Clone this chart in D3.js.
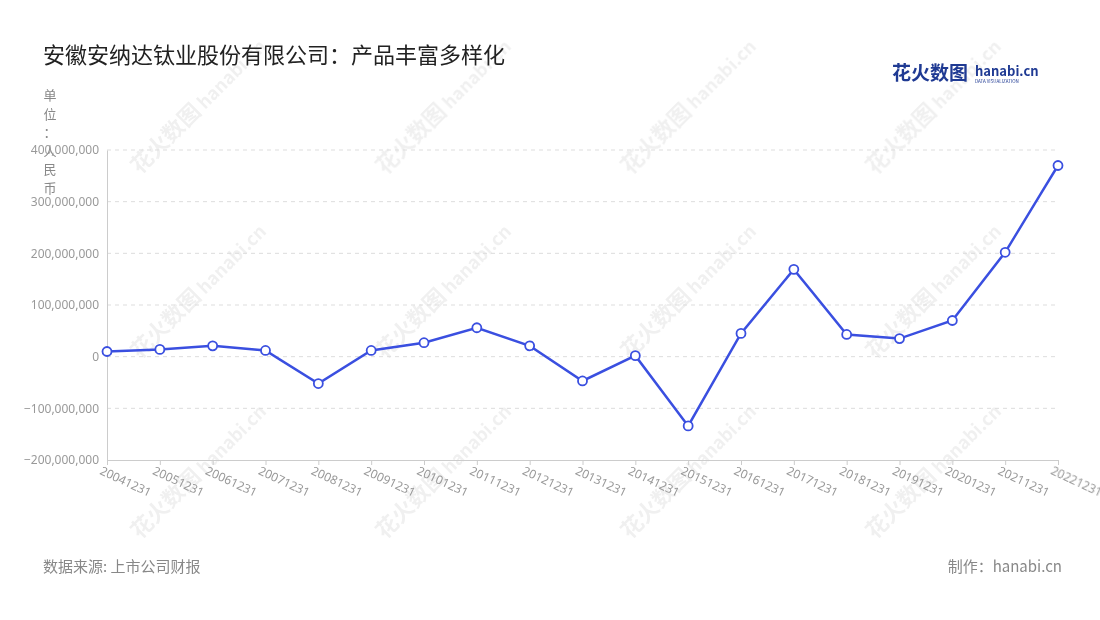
<!DOCTYPE html>
<html><head><meta charset="utf-8">
<script src="https://cdn.jsdelivr.net/npm/d3@7"></script>
<style>body{margin:0;background:#fff;font-family:"Noto Sans CJK SC","Noto Sans",sans-serif;}</style>
</head><body><div id="chart"></div>
<script>
// data
const years = ["20041231","20051231","20061231","20071231","20081231","20091231","20101231","20111231","20121231","20131231","20141231","20151231","20161231","20171231","20181231","20191231","20201231","20211231","20221231"];
const values = [10e6,14e6,21e6,12e6,-52e6,12e6,27e6,56e6,21e6,-47e6,2e6,-134e6,45e6,169e6,43e6,35e6,70e6,202e6,370e6];
const yTicks = [-200e6,-100e6,0,100e6,200e6,300e6,400e6];

const margin = {top: 150, right: 42, bottom: 160, left: 107},
width = 1100 - margin.left - margin.right,
height = 620 - margin.top - margin.bottom;

const root = d3.select("#chart").append("svg").attr("width",1100).attr("height",620);

// watermarks
const wm = root.append("g").attr("fill","#000").attr("opacity",0.06).style("font-weight","bold");
[[140,360],[385,175],[385,540],[630,175],[630,540],[875,175],[875,540],[385,360],[630,360],[875,360],[140,540],[140,175]].forEach(p=>{
  const g = wm.append("g").attr("transform",`translate(${p[0]},${p[1]}) rotate(-45)`);
  g.append("text").attr("font-size",22).text("花火数图");
  g.append("text").attr("x",92).attr("font-size",18).text("hanabi.cn");
});

root.append("text").attr("x",43).attr("y",63).attr("font-size",22).attr("fill","#222").text("安徽安纳达钛业股份有限公司：产品丰富多样化");
root.append("text").attr("x",892).attr("y",80).attr("font-size",19).attr("font-weight","bold").attr("fill","#1f3a93").text("花火数图");
root.append("text").attr("x",975).attr("y",76).attr("font-size",13).attr("font-weight","bold").attr("fill","#1f3a93").text("hanabi.cn");
root.append("text").attr("x",975).attr("y",83).attr("font-size",4.5).attr("fill","#1f3a93").text("DATA VISUALIZATION");

const unit = "单位：人民币".split("");
root.append("g").selectAll("text").data(unit).join("text")
  .attr("x",50).attr("y",(d,i)=>100+i*18.5).attr("text-anchor","middle")
  .attr("font-size",13).attr("fill","#888").text(d=>d);

root.append("text").attr("x",43).attr("y",572).attr("font-size",15).attr("fill","#888").text("数据来源: 上市公司财报");
root.append("text").attr("x",1062).attr("y",572).attr("text-anchor","end").attr("font-size",15).attr("fill","#888").text("制作：hanabi.cn");

const svg = root.append("g").attr("transform",`translate(${margin.left},${margin.top})`);

const x = d3.scalePoint().domain(years).range([0,width]);
const y = d3.scaleLinear().domain([-200e6,400e6]).range([height,0]);

// grid
svg.append("g").selectAll("line").data(yTicks.filter(d=>d!==-200e6)).join("line")
  .attr("x1",0).attr("x2",width).attr("y1",d=>y(d)).attr("y2",d=>y(d))
  .attr("stroke","#ddd").attr("stroke-dasharray","4,4");

const ya = svg.append("g").call(d3.axisLeft(y).tickValues(yTicks).tickFormat(d3.format(",")).tickSize(0).tickPadding(8));
ya.select(".domain").attr("stroke","#ccc");
ya.selectAll("text").attr("fill","#999").attr("font-size",12).style("font-family","Noto Sans");

const xa = svg.append("g").attr("transform",`translate(0,${height})`).call(d3.axisBottom(x).tickSize(5));
xa.select(".domain").attr("stroke","#ccc");
xa.selectAll("line").attr("stroke","#ccc");
xa.selectAll("text").attr("fill","#999").attr("font-size",12).style("font-family","Noto Sans")
  .style("text-anchor","start").attr("dx","-2").attr("dy","8").attr("transform","rotate(25)");

const data = years.map((d,i)=>({k:d,v:values[i]}));
svg.append("path").datum(data).attr("fill","none").attr("stroke","#3a4fe0").attr("stroke-width",2.5)
  .attr("d",d3.line().x(d=>x(d.k)).y(d=>y(d.v)));
svg.append("g").selectAll("circle").data(data).join("circle")
  .attr("cx",d=>x(d.k)).attr("cy",d=>y(d.v)).attr("r",4.5)
  .attr("fill","#fff").attr("stroke","#3a4fe0").attr("stroke-width",1.8);
</script></body></html>
